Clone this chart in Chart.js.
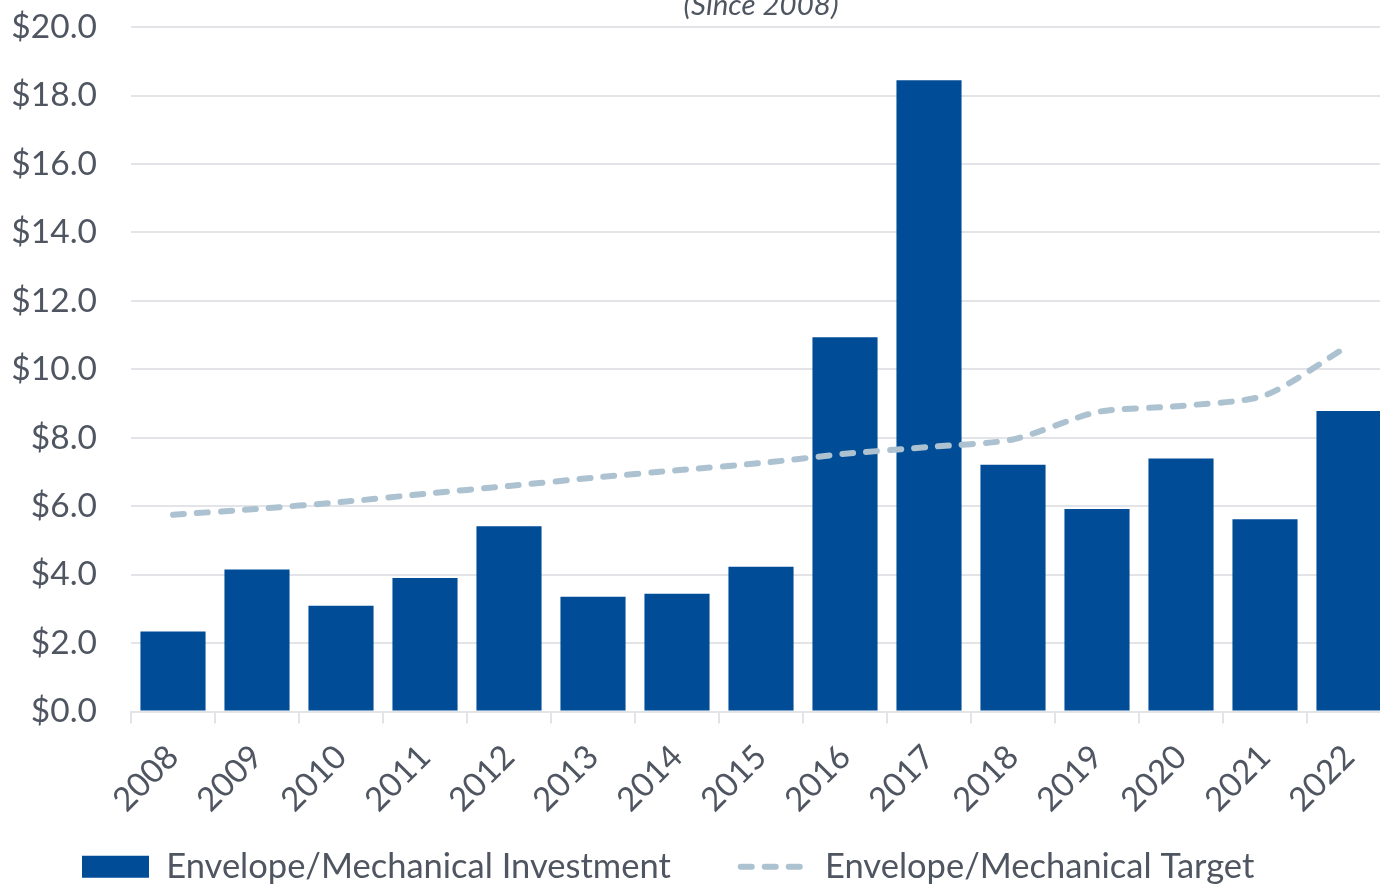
<!DOCTYPE html>
<html>
<head>
<meta charset="utf-8">
<script src="https://cdn.jsdelivr.net/npm/chart.js@4.4.1/dist/chart.umd.min.js"></script>
<style>
  html, body { margin: 0; padding: 0; background: #fff; overflow: hidden; }
  #wrap { position: absolute; left: 0; top: -27px; width: 1391px; height: 921px; }
</style>
</head>
<body>
<div id="wrap"><canvas id="chart"></canvas></div>
<script>
const years = ['2008', '2009', '2010', '2011', '2012', '2013', '2014', '2015',
               '2016', '2017', '2018', '2019', '2020', '2021', '2022'];
// $ millions
const investment = [2.34, 4.15, 3.09, 3.90, 5.41, 3.35, 3.44, 4.23,
                    10.94, 18.45, 7.21, 5.92, 7.39, 5.62, 8.78];
const target = [5.75, 5.92, 6.12, 6.36, 6.59, 6.83, 7.05, 7.26,
                7.53, 7.73, 7.95, 8.75, 8.93, 9.24, 10.70];

const fontFamily = 'Lato, "Open Sans", sans-serif';
const textColor = '#4f5661';
const gridColor = '#e3e4e8';
const barColor = '#004c97';
const lineColor = '#adc2d0';

const ctx = document.getElementById('chart').getContext('2d');
const chart = new Chart(ctx, {
    data: {
        labels: years,
        datasets: [{
            type: 'bar',
            label: 'Envelope/Mechanical Investment',
            data: investment,
            backgroundColor: barColor,
            borderWidth: 0,
            barPercentage: 0.775,
            categoryPercentage: 1,
            order: 1
        }, {
            type: 'line',
            label: 'Envelope/Mechanical Target',
            data: target,
            borderColor: lineColor,
            borderWidth: 6,
            borderDash: [11, 13],
            borderCapStyle: 'round',
            pointRadius: 0,
            tension: 0.25,
            fill: false,
            order: 0
        }]
    },
    options: {
        responsive: true,
        maintainAspectRatio: false,
        animation: false,
        layout: { padding: { left: 12, right: 0, top: 0, bottom: 0 } },
        plugins: {
            title: {
                display: true,
                text: '(Since 2008)',
                fullSize: false,
                color: textColor,
                font: { family: fontFamily, size: 29.5, style: 'italic', weight: 'normal' },
                padding: { top: 0, bottom: 4 }
            },
            legend: {
                position: 'bottom',
                align: 'start',
                labels: {
                    usePointStyle: true,
                    pointStyleWidth: 67,
                    boxHeight: 22,
                    padding: 70,
                    color: textColor,
                    font: { family: fontFamily, size: 34.5 },
                    generateLabels: chart => chart.data.datasets.map((ds, i) => ({
                        text: ds.label,
                        datasetIndex: i,
                        fillStyle: ds.type === 'line' ? 'rgba(0,0,0,0)' : ds.backgroundColor,
                        strokeStyle: ds.type === 'line' ? ds.borderColor : ds.backgroundColor,
                        lineWidth: ds.type === 'line' ? 6 : 0,
                        lineDash: ds.type === 'line' ? [11, 13] : [],
                        lineCap: 'round',
                        pointStyle: ds.type === 'line' ? 'line' : 'rect',
                        fontColor: textColor,
                        hidden: false
                    }))
                }
            },
            tooltip: { enabled: false }
        },
        scales: {
            x: {
                offset: true,
                grid: {
                    offset: true,
                    drawOnChartArea: false,
                    drawTicks: true,
                    tickLength: 12,
                    color: gridColor,
                    lineWidth: 2
                },
                border: { color: gridColor, width: 2 },
                ticks: {
                    minRotation: 45,
                    maxRotation: 45,
                    color: textColor,
                    font: { family: fontFamily, size: 33 },
                    padding: 14
                },
                // labels hang into the empty space above the legend row
                afterFit: s => {
                    s.height = 68;
                    s.paddingLeft = 0;
                    s.paddingRight = 0;
                    s._computeLabelArea = () => null;
                }
            },
            y: {
                min: 0,
                max: 20,
                grid: { color: gridColor, lineWidth: 2, drawTicks: false },
                border: { display: false },
                ticks: {
                    stepSize: 2,
                    padding: 34,
                    color: textColor,
                    font: { family: fontFamily, size: 33.5 },
                    callback: v => '$' + v.toFixed(1)
                },
                afterFit: s => { s.width = 119; }
            }
        }
    }
});
</script>
</body>
</html>
